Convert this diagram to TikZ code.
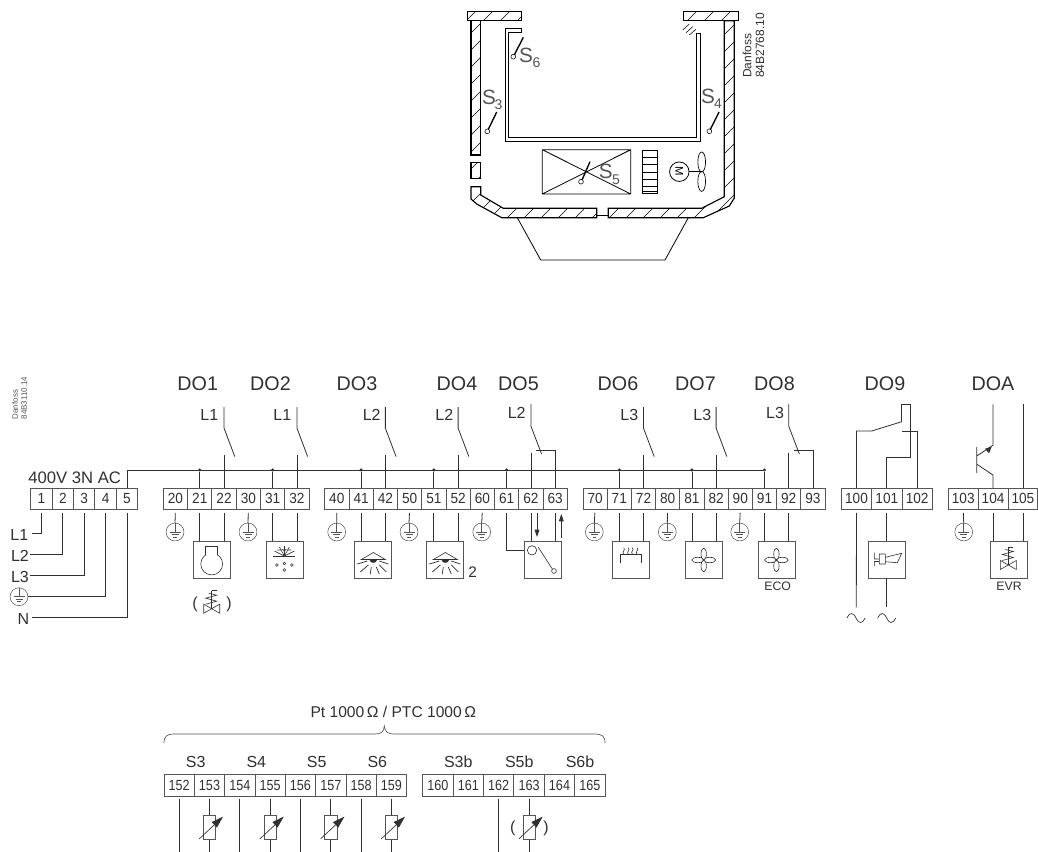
\documentclass[tikz,border=0pt]{standalone}
\usepackage{fontspec}
\setmainfont{Liberation Sans}
\newfontfamily\termA[FakeStretch=0.93]{Liberation Sans}
\newfontfamily\termB[FakeStretch=0.86]{Liberation Sans}
\usetikzlibrary{calc,arrows.meta}
\definecolor{ink}{HTML}{303030}
\definecolor{soft}{HTML}{555555}
\tikzset{
 wire/.style={draw=ink,line width=0.6pt},
 tw/.style={wire,shorten <=2.6pt},
 thinl/.style={draw=ink,line width=0.45pt},
 wall/.style={draw=black,line width=0.85pt},
 term/.style={draw=soft,line width=0.65pt,rectangle,inner sep=0pt,outer sep=0pt,minimum height=15.9pt,text=ink,font=\termA\fontsize{11}{12}\selectfont},
 lterm/.style={term,minimum height=16.1pt,font=\termB\fontsize{11}{12}\selectfont},
 devbox/.style={draw=soft,line width=0.65pt,rectangle,inner sep=0pt,outer sep=0pt,minimum size=27.8pt},
 earthc/.style={draw=soft,line width=0.4pt,circle,inner sep=0pt,outer sep=0pt,minimum size=13.4pt},
 head/.style={text=ink,inner sep=0pt,font=\fontsize{14.8}{16}\selectfont},
 lab/.style={text=ink,inner sep=0pt,font=\fontsize{12}{14}\selectfont},
 sens/.style={draw=black,line width=1pt},
 senslab/.style={text=soft,inner sep=0pt,font=\fontsize{15.5}{17}\selectfont},
 senssub/.style={text=soft,inner sep=0pt,font=\fontsize{10.5}{12}\selectfont},
 dot/.style={circle,fill=ink,inner sep=0pt,minimum size=2.6pt},
 small/.style={text=ink,inner sep=0pt,font=\fontsize{9.2}{11}\selectfont},
}
\newcommand\hatchpoly[1]{%
 \begin{scope}\clip #1;
 \foreach \k in {470,487,...,1020}{\draw[black,line width=0.35pt] (\k,0)--(\k-300,300);}
 \end{scope}
 \draw[wall] #1;}
\newcommand\earthsym[3]{%
 \node[earthc] (#1) at (#2,#3) {};
 \begin{scope}[shift={(#2,#3)}]
 \draw[thinl,draw=soft,line width=0.4pt] (0,-9)--(0,0) (-5.5,0)--(5.5,0) (-3.5,2.6)--(3.5,2.6) (-1.8,5)--(1.8,5);
 \end{scope}}
\newcommand\valvesym[2]{%
 \begin{scope}[shift={(#1,#2)}]
 \draw[thinl] (-8,-4.5)--(8,4.5)--(8,-4.5)--(-8,4.5)--cycle;
 \draw[thinl] (0,0)--(0,-18) (0,-18)--(5,-18);
 \draw[thinl] (-6,-4.5)--(5,-7.5)--(-6,-10.5)--(5,-13.5)--(-3,-15.5);
 \end{scope}}
\newcommand\fansym[2]{%
 \begin{scope}[shift={(#1,#2)}]
 \draw[thinl] (0,-6) ellipse (2pt and 4.4pt) (0,6) ellipse (2pt and 4.4pt)
   (-6,0) ellipse (4.4pt and 2pt) (6,0) ellipse (4.4pt and 2pt);
 \fill[ink] (0,0) circle (0.9pt);
 \end{scope}}
\newcommand\lampsym[2]{%
 \begin{scope}[shift={(#1,#2)}]
 \draw[thinl] (-12,-0.5)--(0,-7.5)--(12,-0.5)--cycle;
 \fill[ink] (-4,-0.5) .. controls (-3,4) and (3,4) .. (4,-0.5)--cycle;
 \draw[ink,line width=0.55pt] (-16,4)--(-6,1) (-13,12)--(-5,5) (-3,14)--(-2,7) (3,7)--(6,14) (6,5)--(13,12) (6,1)--(15,4);
 \end{scope}}
\newcommand\resistsym[1]{%
 \begin{scope}[shift={(#1)}]
 \draw[soft,line width=0.6pt,fill=white] (-6.2,0) rectangle (6.2,23.3);
 \draw[ink,line width=0.5pt,-{Triangle[length=9pt,width=5.5pt]}] (-10.3,23.3)--(13.6,1);
 \end{scope}}
\begin{document}
\begin{tikzpicture}[x=0.75pt,y=-0.75pt]
\useasboundingbox (0,0) rectangle (1038,852);
% ---------- cabinet
\hatchpoly{(467.3,11.7) rectangle (521.7,20.7)}
\hatchpoly{(471,20.7) rectangle (480.7,155)}
\hatchpoly{(471,162.7) rectangle (480.7,178.7)}
\hatchpoly{(471,186.7)--(480.7,186.7)--(480.7,195)--(503.3,208.3)--(596.7,208.3)--(596.7,217.7)--(501.7,217.7)--(476.7,204)--(471,199)--cycle}
\hatchpoly{(608.3,208.3)--(701.7,208.3)--(724.3,196.7)--(724.3,20.7)--(734.3,20.7)--(734.3,198)--(729.3,206)--(703.3,217.7)--(608.3,217.7)--cycle}
\hatchpoly{(683.7,11.7) rectangle (738.3,20.7)}
\draw[wall] (596.7,215.5)--(608.3,215.5);
\draw[black,line width=0.6pt] (517.3,217.7)--(540.7,260)--(665,260)--(688.3,217.7);
\draw[wall,line width=0.7pt] (521.7,28.3)--(505,28.3)--(505,141.7)--(700.7,141.7)--(700.7,33.3)--(696.7,33.3)--(696.7,137.3)--(508.7,137.3)--(508.7,32.7)--(521.7,32.7)--cycle;
\draw[black,line width=0.4pt] (682.7,30)--(689.3,24) (686,32.7)--(692.7,26.7) (689.3,35)--(696,29.3);
\draw[black,line width=0.6pt] (542.3,149.7) rectangle (630.7,194) (542.3,149.7)--(630.7,194) (542.3,194)--(630.7,149.7);
\draw[wall,line width=0.7pt] (642.3,150.3) rectangle (657.3,193.7);
\foreach \yy in {157.5,164.7,172,179.2,186.5,191.5}{\draw[black,line width=0.5pt] (642.3,\yy)--(657.3,\yy);}
\node[draw=black,line width=0.6pt,circle,minimum size=14.6pt,inner sep=0pt,outer sep=0pt] (motor) at (679.3,171.7) {\rotatebox{-90}{\fontsize{8.5}{9}\selectfont M}};
\coordinate (hub) at (701.7,171.7);
\draw[black,line width=1pt] (motor.east)--(hub);
\draw[black,line width=0.5pt] (701.7,162) ellipse (2.9pt and 7.5pt) (701.7,181.4) ellipse (2.9pt and 7.5pt);
% sensors
\draw[sens] (523.3,37.3)--(514.3,55) (496.7,112)--(488.2,129.6) (719,112)--(710.2,129.6) (590,161.7)--(582,180);
\draw[black,line width=0.4pt] (513.3,56.7) circle (1.8pt) (487.3,131.3) circle (1.8pt) (709.3,131.3) circle (1.8pt) (581,181.7) circle (1.8pt);
\node[senslab] (s6) at (526,55) {S}; \node[senssub] (s6i) at (536.5,63) {6};
\node[senslab] (s3) at (489,97) {S}; \node[senssub] (s3i) at (498.5,105) {3};
\node[senslab] (s4) at (708,96) {S}; \node[senssub] (s4i) at (718,104) {4};
\node[senslab] (s5) at (605.7,171.7) {S}; \node[senssub] (s5i) at (616,180) {5};
\node[text=ink,inner sep=0pt,rotate=90,anchor=west,font=\fontsize{9}{10}\selectfont] (dan1) at (747,78) {Danfoss};
\node[text=ink,inner sep=0pt,rotate=90,anchor=west,font=\fontsize{9}{10}\selectfont] (dan2) at (760,78) {84B2768.10};
\node[text=soft,inner sep=0pt,rotate=90,anchor=west,font=\fontsize{6}{7}\selectfont] (dan3) at (15,419.5) {Danfoss};
\node[text=soft,inner sep=0pt,rotate=90,anchor=west,font=\fontsize{6}{7}\selectfont] (dan4) at (24,419.5) {84B3110.14};
% ---------- headings
\foreach \nm/\xx in {DO1/197.7,DO2/270.5,DO3/357,DO4/457,DO5/518.5,DO6/618,DO7/695.5,DO8/774.5,DO9/885,DOA/993}
 {\node[head] (h\nm) at (\xx,383.5) {\nm};}
\foreach \nm/\tx/\xx/\yy in {a/L1/209.3/415,b/L1/282.3/415,c/L2/371.7/415,d/L2/444.3/415,e/L2/516.7/413.3,f/L3/629.3/415,g/L3/702.3/415,h/L3/775/413.3}
 {\node[lab] (l\nm) at (\xx,\yy) {\tx};}
\node[lab,font=\fontsize{12.5}{14}\selectfont] (supply) at (74.7,477.5) {400V 3N AC};
% ---------- terminals
\foreach \n [count=\i from 0] in {1,2,3,4,5}
 {\node[term,minimum width=16.05pt] (t\n) at ({30.7+21.4*(\i+0.5)},498.7) {\n};}
\foreach \n [count=\i from 0] in {20,21,22,30,31,32}
 {\node[term,minimum width=18.25pt] (t\n) at ({163.3+24.3*(\i+0.5)},498.7) {\n};}
\foreach \n [count=\i from 0] in {40,41,42,50,51,52,60,61,62,63}
 {\node[term,minimum width=18.2pt] (t\n) at ({324.7+24.26*(\i+0.5)},498.7) {\n};}
\foreach \n [count=\i from 0] in {70,71,72,80,81,82,90,91,92,93}
 {\node[term,minimum width=18.15pt] (t\n) at ({583+24.2*(\i+0.5)},498.7) {\n};}
\foreach \n [count=\i from 0] in {100,101,102}
 {\node[term,minimum width=22.75pt] (t\n) at ({841.3+30.33*(\i+0.5)},498.7) {\n};}
\foreach \n [count=\i from 0] in {103,104,105}
 {\node[term,minimum width=22.4pt] (t\n) at ({948.3+29.85*(\i+0.5)},498.7) {\n};}
\foreach \n [count=\i from 0] in {152,153,154,155,156,157,158,159}
 {\node[lterm,minimum width=22.75pt] (t\n) at ({164+30.33*(\i+0.5)},785.2) {\n};}
\foreach \n [count=\i from 0] in {160,161,162,163,164,165}
 {\node[lterm,minimum width=22.8pt] (t\n) at ({422.7+30.4*(\i+0.5)},785.2) {\n};}
% ---------- supply
\node[lab] (nL1) at (19.3,535) {L1};
\node[lab] (nL2) at (20,555.7) {L2};
\node[lab] (nL3) at (20,576.7) {L3};
\earthsym{ePE}{19}{596.7}
\node[lab] (nN) at (23.3,619) {N};
\coordinate (wL1) at (32,533.3); \coordinate (wL2) at (30,554); \coordinate (wL3) at (30,575.3); \coordinate (wN) at (32.3,617.7);
\draw[tw] (t1.south)|-(wL1);
\draw[tw] (t2.south)|-(wL2);
\draw[tw] (t3.south)|-(wL3);
\draw[tw] (t4.south)|-(ePE.east);
\draw[tw] (t5.south)|-(wN);
% bus
\coordinate (busend) at (764.3,470);
\draw[wire] (t5.north)--(t5.north|-busend)--(busend);
\foreach \n in {21,31,41,51,61,71,81,91}{
 \node[dot] (d\n) at (t\n.north|-busend) {};
 \draw[wire] (d\n)--(t\n.north);}
% contacts
\foreach \n in {22,32,42,52,72,82}{
 \coordinate (ct\n) at ($(t\n.north)+(0,-81)$);
 \coordinate (cm\n) at ($(t\n.north)+(0,-60)$);
 \coordinate (ce\n) at ($(t\n.north)+(10.7,-31.5)$);
 \coordinate (cl\n) at ($(t\n.north)+(0,-33)$);
 \draw[wire] (ct\n)--(cm\n)--(ce\n);
 \draw[wire] (cl\n)--(t\n.north);}
\foreach \a/\b in {62/63,92/93}{
 \coordinate (ct\a) at ($(t\a.north)+(0,-84)$);
 \coordinate (cm\a) at ($(t\a.north)+(0,-62)$);
 \coordinate (ce\a) at ($(t\a.north)+(10.7,-34)$);
 \coordinate (cl\a) at ($(t\a.north)+(0,-35)$);
 \coordinate (cb\a) at ($(t\a.north)+(5.4,-38)$);
 \draw[wire] (ct\a)--(cm\a)--(ce\a);
 \draw[wire] (cl\a)--(t\a.north);
 \draw[wire] (cb\a)-|(t\b.north);}
% DO9 contact
\coordinate (c9a) at (871.7,431); \coordinate (c9b) at (901.7,421.7); \coordinate (c9c) at (901.7,404.3);
\coordinate (c9d) at (910,404.3); \coordinate (c9e) at (910,457.3); \coordinate (c9f) at (902,431);
\draw[wire] (t100.north)|-(c9a)--(c9b);
\draw[wire] (c9b)--(c9c)--(c9d)--(c9e)-|(t101.north);
\draw[wire] (c9f)-|(t102.north);
% transistor
\coordinate (tra) at ($(t104.north)+(0,-83.7)$); \coordinate (trb) at ($(t104.north)+(0,-43)$); \coordinate (trc) at ($(t104.north)+(-16.4,-32)$);
\coordinate (trd) at ($(t104.north)+(-16.4,-24)$); \coordinate (tre) at ($(t104.north)+(0,-13)$);
\coordinate (trf) at ($(t104.north)+(-16.4,-41.3)$); \coordinate (trg) at ($(t104.north)+(-16.4,-15.3)$);
\draw[wire] (tra)--(trb)--(trc) (trf)--(trg) (trd)--(tre)--(t104.north);
\fill[ink] (991.7,446.7)--(985,448.7)--(989,453.3)--cycle;
\coordinate (trh) at ($(t105.north)+(0,-83.7)$);
\draw[wire] (trh)--(t105.north);
% ---------- earths
\foreach \n/\xx in {20/175,30/248,40/336.7,50/409,60/481.7,70/594.3,80/667.3,90/739.7,103/963.7}{
 \earthsym{e\n}{\xx}{532}
 \draw[tw] (t\n.south)--(e\n.north);}
% ---------- device boxes
\foreach \nm/\xx/\a/\b in {comp/211.8/21/22,defr/284.6/31/32,lightA/373.2/41/42,lightB/445.3/51/52,heat/631.2/71/72,fanA/704/81/82,fanB/776.7/91/92,evr/1008.8/104/105}{
 \node[devbox] (\nm) at (\xx,559.8) {};
 \draw[tw] (t\a.south)--(t\a.south|-\nm.north);
 \draw[tw] (t\b.south)--(t\b.south|-\nm.north);}
\node[devbox] (door) at (542.8,559.8) {};
\draw[tw] (t62.south)--(t62.south|-door.north);
\draw[tw] (t63.south)--(t63.south|-door.north);
\coordinate (doory) at (0,550.3);
\draw[tw] (t61.south)|-(door.west|-doory);
\node[devbox] (horn) at (886.8,559.8) {};
\draw[tw] (t101.south)--(t101.south|-horn.north);
\coordinate (ac1) at (856.3,607.3); \coordinate (ac2) at (886.3,607.3);
\draw[wire] (ac2|-horn.south)--(ac2);
\draw[tw] (t100.south)--(ac1);
% compressor
\draw[thinl] (211.7,564) circle (8.2pt);
\fill[white] (206.4,546.5) rectangle (217,556);
\draw[thinl] (205.7,554.5)--(205.7,546)--(217.3,546)--(217.3,554.5);
% valves
\valvesym{211.7}{608.7}
\node[lab] (pv1) at (195,604) {(}; \node[lab] (pv2) at (229,604) {)};
\valvesym{1008.3}{565}
\node[small] (evrt) at (1009,586.7) {EVR};
\node[small] (ecot) at (777.7,586.7) {ECO};
% defrost
\begin{scope}[shift={(284.4,556)}]
 \draw[thinl] (-11,0)--(11,0);
 \foreach \dx/\dy in {-10/-5,-5/-9,0/-10,5/-9,10/-5}{
  \draw[thinl] (0,0)--(\dx,\dy);}
 \draw[thinl] (-7,-6)--(-3,-6) (7,-6)--(3,-6) (-2,-7)--(0,-5)--(2,-7);
 \draw[thinl] (-7.5,9) circle (1pt) (0,7.5) circle (1pt) (0,14) circle (1pt) (7.5,9) circle (1pt);
\end{scope}
% lamps
\lampsym{373.3}{560}
\lampsym{445.3}{560}
\node[lab,font=\fontsize{11.5}{13}\selectfont] (two) at (472.7,572.3) {2};
% door switch
\draw[thinl] (532,550.3) circle (3.5pt) (554,571) circle (1.8pt) (538.3,547.3)--(552.3,569);
\coordinate (arA) at (537,512.7); \coordinate (arB) at (537,537); \coordinate (arC) at (561.3,538.3); \coordinate (arD) at (561.3,514);
\draw[ink,line width=0.6pt,-{Triangle[length=5.5pt,width=3.6pt]}] (arA)--(arB);
\draw[ink,line width=0.6pt,-{Triangle[length=5.5pt,width=3.6pt]}] (arC)--(arD);
% heater
\draw[thinl] (620.3,562.7)--(620.3,554.3)--(641,554.3)--(641,562.7);
\foreach \xx in {623.7,628.3,632.3,637}{
 \draw[thinl] (\xx,554)..controls (\xx-2.5,552) and (\xx+2.5,550) ..(\xx,547.7);}
% fans
\fansym{703.7}{560}
\fansym{776.4}{560}
% horn
\draw[thinl] (879.3,554) rectangle (885.3,564) (874.3,552.5)--(874.3,559)--(879.3,559) (874.3,566)--(874.3,561.5)--(879.3,561.5)
 (885.3,557.3)--(901.7,553.3)--(897.3,562.7)--(885.3,561.7);
% tildes
\foreach \xx in {856,886.7}{
 \draw[wire,line width=0.5pt] (\xx-9,618) .. controls (\xx-6,612) and (\xx-3,612) .. (\xx,618) .. controls (\xx+3,624) and (\xx+6,624) .. (\xx+9,618);}
% ---------- sensors row
\node[lab,font=\fontsize{11.7}{13}\selectfont] (pt) at (393.3,711.7) {Pt 1000\,Ω / PTC 1000\,Ω};
\draw[soft,line width=0.5pt] (164,743) .. controls (164,736) and (167,734) .. (175,734) -- (375,734) .. controls (381,734) and (384,732) .. (384.3,726) .. controls (385,732) and (388,734) .. (394,734) -- (595,734) .. controls (602,734) and (605,736) .. (605,743);
\foreach \tx/\xx in {S3/195.7,S4/256.3,S5/316.7,S6/377.3,S3b/458.3,S5b/519.3,S6b/580}
 {\node[lab] (sl\tx) at (\xx,761.7) {\tx};}
\coordinate (botline) at (0,852);
\foreach \n in {152,154,156,158,162}{\draw[tw] (t\n.south)--(t\n.south|-botline);}
\foreach \n in {153,155,157,159,163}{
 \coordinate (ra\n) at ($(t\n.south)+(0,19.7)$);
 \coordinate (rb\n) at ($(t\n.south)+(0,43)$);
 \draw[tw] (t\n.south)--(ra\n);
 \draw[wire] (rb\n)--(t\n.south|-botline);
 \resistsym{ra\n}}
\node[lab] (pr1) at (512.7,828) {(}; \node[lab] (pr2) at (546,828) {)};
\end{tikzpicture}
\end{document}
